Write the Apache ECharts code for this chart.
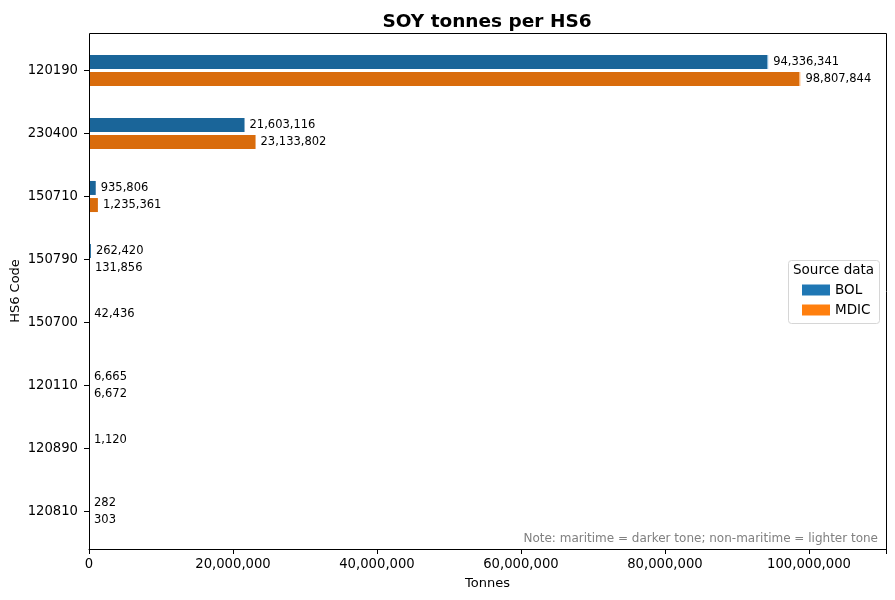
<!DOCTYPE html>
<html>
<head>
<meta charset="utf-8">
<title>SOY tonnes per HS6</title>
<script src="https://cdn.jsdelivr.net/npm/echarts@6/dist/echarts.min.js"></script>
<style>
  html, body { margin: 0; padding: 0; background: #fff; }
  #main { width: 895px; height: 600px; }
</style>
</head>
<body>
<div id="main"></div>
<script type="text/javascript">
    // HS6 codes, top to bottom
    var codes = ['120190', '230400', '150710', '150790', '150700', '120110', '120890', '120810'];
    // total tonnes per source (null = no data)
    var bolTotal  = [94336341, 21603116, 935806, 262420, 42436, 6665, 1120, 282];
    var mdicTotal = [98807844, 23133802, 1235361, 131856, null, 6672, null, 303];
    // non-maritime part (lighter tone), estimated from the thin slivers
    var bolNonMar  = [140000, 0, 0, 0, 0, 0, 0, 0];
    var mdicNonMar = [130000, 0, 0, 0, null, 0, null, 0];
    var xTicks = [0, 20000000, 40000000, 60000000, 80000000, 100000000];

    function minus(tot, part) {
        return tot.map(function (v, i) { return v == null ? null : v - part[i]; });
    }
    function fmt(v) {
        return Math.round(v).toString().replace(/\B(?=(\d{3})+(?!\d))/g, ',');
    }

    var font = 'DejaVu Sans';
    var myChart = echarts.init(document.getElementById('main'));

    var labelFor = function (totals) {
        return {
            show: true,
            position: 'right',
            distance: 5,
            fontFamily: font,
            fontSize: 11.5,
            color: '#000',
            formatter: function (p) {
                var t = totals[p.dataIndex];
                return t == null ? '' : fmt(t);
            }
        };
    };

    var option = {
        animation: false,
        backgroundColor: '#fff',
        textStyle: { fontFamily: font },
        title: {
            text: 'SOY tonnes per HS6',
            left: 482, top: 8,
            textAlign: 'center',
            textStyle: { fontFamily: font, fontSize: 18.5, fontWeight: 'bold', color: '#000' }
        },
        legend: {
            left: 797, top: 278, z: 10,
            orient: 'vertical',
            itemWidth: 28, itemHeight: 11, itemGap: 6,
            textStyle: { fontFamily: font, fontSize: 13.5, color: '#000' },
            data: [
                { name: 'BOL', icon: 'rect', itemStyle: { color: '#1f77b4' } },
                { name: 'MDIC', icon: 'rect', itemStyle: { color: '#ff7f0e' } }
            ],
            selectedMode: false
        },
        grid: { left: 89, right: 9, top: 39, bottom: 57, containLabel: false, outerBoundsMode: 'none' },
        xAxis: {
            type: 'value',
            min: 0, max: 110700000, interval: 20000000,
            offset: 6,
            name: 'Tonnes',
            nameLocation: 'middle',
            nameGap: 28,
            nameTextStyle: { fontFamily: font, fontSize: 13, color: '#000' },
            axisLine: { show: true, lineStyle: { color: '#000', width: 1 } },
            axisTick: { show: true, length: 5, lineStyle: { color: '#000' } },
            splitLine: { show: false },
            axisLabel: {
                fontFamily: font, fontSize: 13.2, color: '#000', margin: 9,
                formatter: function (v) { return xTicks.indexOf(v) >= 0 ? fmt(v) : ''; }
            }
        },
        yAxis: {
            type: 'category',
            inverse: true,
            data: codes,
            axisLine: { show: true, lineStyle: { color: '#000', width: 1 } },
            axisTick: { show: true, alignWithLabel: true, length: 5, lineStyle: { color: '#000' } },
            axisLabel: { fontFamily: font, fontSize: 13.2, color: '#000', margin: 11 }
        },
        series: [
            {
                name: 'BOL', type: 'bar', stack: 'bol',
                barWidth: 14, barGap: '22%',
                itemStyle: { color: '#1a6599' },
                data: minus(bolTotal, bolNonMar)
            },
            {
                name: 'BOL non-maritime', type: 'bar', stack: 'bol',
                barWidth: 14, barGap: '22%',
                itemStyle: { color: '#79b0d6' },
                label: labelFor(bolTotal),
                data: bolNonMar
            },
            {
                name: 'MDIC', type: 'bar', stack: 'mdic',
                barWidth: 14, barGap: '22%',
                itemStyle: { color: '#d96c0c' },
                data: minus(mdicTotal, mdicNonMar)
            },
            {
                name: 'MDIC non-maritime', type: 'bar', stack: 'mdic',
                barWidth: 14, barGap: '22%',
                itemStyle: { color: '#ffb26e' },
                label: labelFor(mdicTotal),
                data: mdicNonMar
            }
        ],
        graphic: [
            {
                type: 'rect', z: 100, silent: true,
                shape: { x: 89.5, y: 33.5, width: 797, height: 516 },
                style: { fill: 'none', stroke: '#000', lineWidth: 1 }
            },
            {
                type: 'rect', z: 0, silent: true,
                shape: { x: 788.5, y: 260.5, width: 91, height: 63, r: 3 },
                style: { fill: '#fff', stroke: '#d6d6d6', lineWidth: 1 }
            },
            {
                type: 'text', z: 95, silent: true,
                left: 793, top: 263,
                style: { text: 'Source data', fontFamily: font, fontSize: 13.5, fill: '#000' }
            },
            {
                // y-axis title
                type: 'text', z: 95, silent: true,
                x: 16, y: 291, rotation: Math.PI / 2,
                style: {
                    text: 'HS6 Code', fontFamily: font, fontSize: 13, fill: '#000',
                    align: 'center', verticalAlign: 'middle'
                }
            },
            {
                type: 'text', z: 95, silent: true,
                right: 17, top: 533,
                style: {
                    text: 'Note: maritime = darker tone; non-maritime = lighter tone',
                    fontFamily: font, fontSize: 12, fill: '#808080'
                }
            }
        ]
    };
    myChart.setOption(option);
</script>
</body>
</html>
